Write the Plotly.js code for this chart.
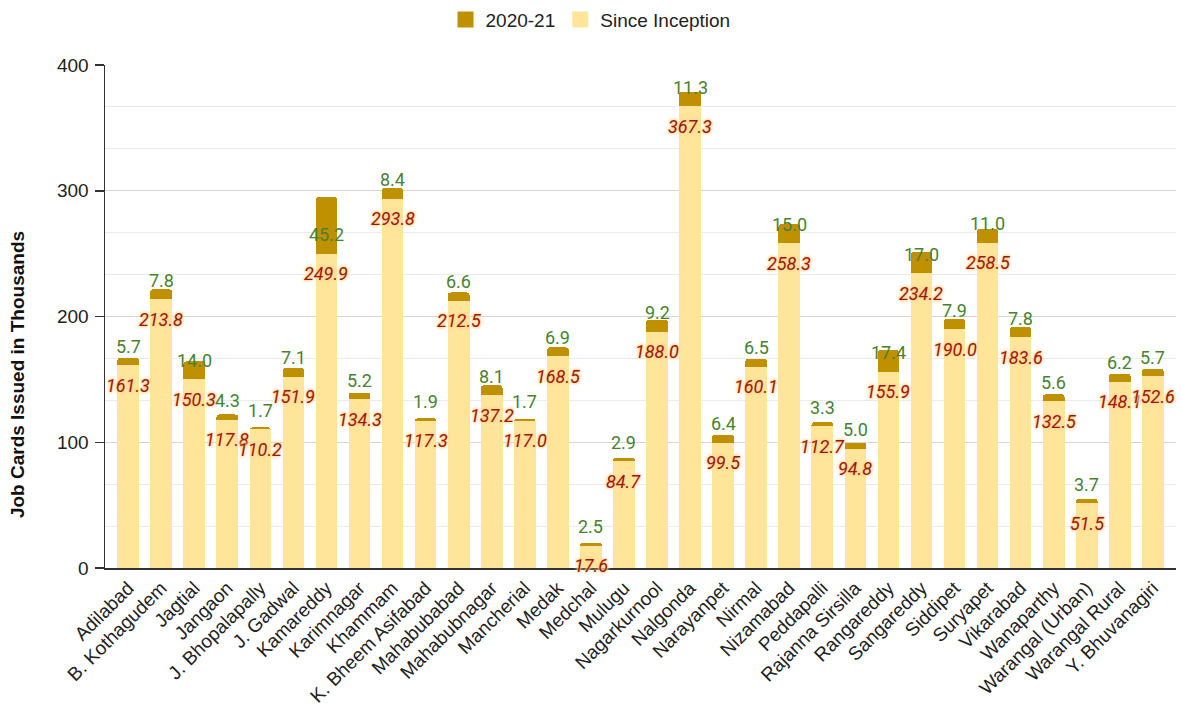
<!DOCTYPE html>
<html>
<head>
<meta charset="utf-8">
<script src="https://cdn.plot.ly/plotly-3.0.1.min.js"></script>
<style>html,body{margin:0;padding:0;background:#fff;}#chart{width:1181px;height:707px;}</style>
</head>
<body>
<div id="chart"></div>
<script>
const districts = ["Adilabad","B. Kothagudem","Jagtial","Jangaon","J. Bhopalapally","J. Gadwal","Kamareddy","Karimnagar","Khammam","K. Bheem Asifabad","Mahabubabad","Mahabubnagar","Mancherial","Medak","Medchal","Mulugu","Nagarkurnool","Nalgonda","Narayanpet","Nirmal","Nizamabad","Peddapalli","Rajanna Sirsilla","Rangareddy","Sangareddy","Siddipet","Suryapet","Vikarabad","Wanaparthy","Warangal (Urban)","Warangal Rural","Y. Bhuvanagiri"];
const sinceInception = [161.3,213.8,150.3,117.8,110.2,151.9,249.9,134.3,293.8,117.3,212.5,137.2,117.0,168.5,17.6,84.7,188.0,367.3,99.5,160.1,258.3,112.7,94.8,155.9,234.2,190.0,258.5,183.6,132.5,51.5,148.1,152.6];
const year2020_21 = [5.7,7.8,14.0,4.3,1.7,7.1,45.2,5.2,8.4,1.9,6.6,8.1,1.7,6.9,2.5,2.9,9.2,11.3,6.4,6.5,15.0,3.3,5.0,17.4,17.0,7.9,11.0,7.8,5.6,3.7,6.2,5.7];
const yTicks = [0,100,200,300,400];
const colorSince = '#FFE599';
const colorYear = '#BF9000';

const idx = districts.map((d,i)=>i);
const traces = [
  {type:'bar', name:'Since Inception', x:idx, y:sinceInception, marker:{color:colorSince}, showlegend:false},
  {type:'bar', name:'2020-21', x:idx, y:year2020_21, marker:{color:colorYear}, showlegend:false},
  {type:'scatter', mode:'markers', name:'2020-21', x:[null], y:[null], marker:{symbol:'square', size:18, color:colorYear}, showlegend:true},
  {type:'scatter', mode:'markers', name:'Since Inception', x:[null], y:[null], marker:{symbol:'square', size:18, color:colorSince}, showlegend:true}
];

const labelFont = 'Roboto, "Noto Sans", sans-serif';
const annotations = [];
idx.forEach(i=>{
  annotations.push({x:i, y:sinceInception[i], xref:'x', yref:'y', text:sinceInception[i].toFixed(1), showarrow:false,
    yanchor:'middle', xanchor:'center', yshift:-20,
    font:{family:labelFont, size:18, color:'#9a1a06', style:'italic',
      shadow:'0 0 2px #ffcf8f, 0 0 3px #ffcf8f, 0 0 4px #ffdca8, 0 0 4px #ffdca8'}});
  annotations.push({x:i, y:sinceInception[i], xref:'x', yref:'y', text:year2020_21[i].toFixed(1), showarrow:false,
    yanchor:'middle', xanchor:'center', yshift:19,
    font:{family:labelFont, size:18, color:'#47822f'}});
});
annotations.push({xref:'paper', yref:'paper', x:-0.081, y:0.384, text:'<b>Job Cards Issued in Thousands</b>', textangle:-90,
  showarrow:false, xanchor:'center', yanchor:'middle', font:{family:'"Liberation Sans", Arial, sans-serif', size:19, color:'#111'}});

const layout = {
  width:1181, height:707,
  margin:{l:105, r:5, t:65, b:139},
  paper_bgcolor:'#fff', plot_bgcolor:'#fff',
  barmode:'stack', bargap:0.345, barcornerradius:3,
  font:{family:'"Liberation Sans", Arial, sans-serif', size:18, color:'#222'},
  showlegend:true,
  legend:{orientation:'h', x:0.5, xanchor:'center', xref:'container', y:0.999, yanchor:'top', yref:'container', traceorder:'normal',
    font:{size:19, color:'#222'}, itemsizing:'trace'},
  xaxis:{range:[-0.7,31.7], tickmode:'array', tickvals:idx, ticktext:districts, tickangle:-45, automargin:false,
    showline:true, linecolor:'#333', linewidth:1.5, showgrid:false, ticks:'', zeroline:false,
    tickfont:{size:19, color:'#222'}},
  yaxis:{range:[0,400], tickmode:'array', tickvals:yTicks, ticks:'outside', ticklen:9, tickcolor:'#333', tickwidth:1.5, automargin:false,
    showline:true, linecolor:'#333', linewidth:1.5, showgrid:true, gridcolor:'#d6d6d6', zeroline:false,
    tickfont:{size:19, color:'#222'}, ticklabelstandoff:2,
    minor:{dtick:100/3, tick0:0, showgrid:true, gridcolor:'#ebebeb', ticks:''}},
  annotations:annotations
};
Plotly.newPlot('chart', traces, layout, {displayModeBar:false, staticPlot:true});
</script>
</body>
</html>
